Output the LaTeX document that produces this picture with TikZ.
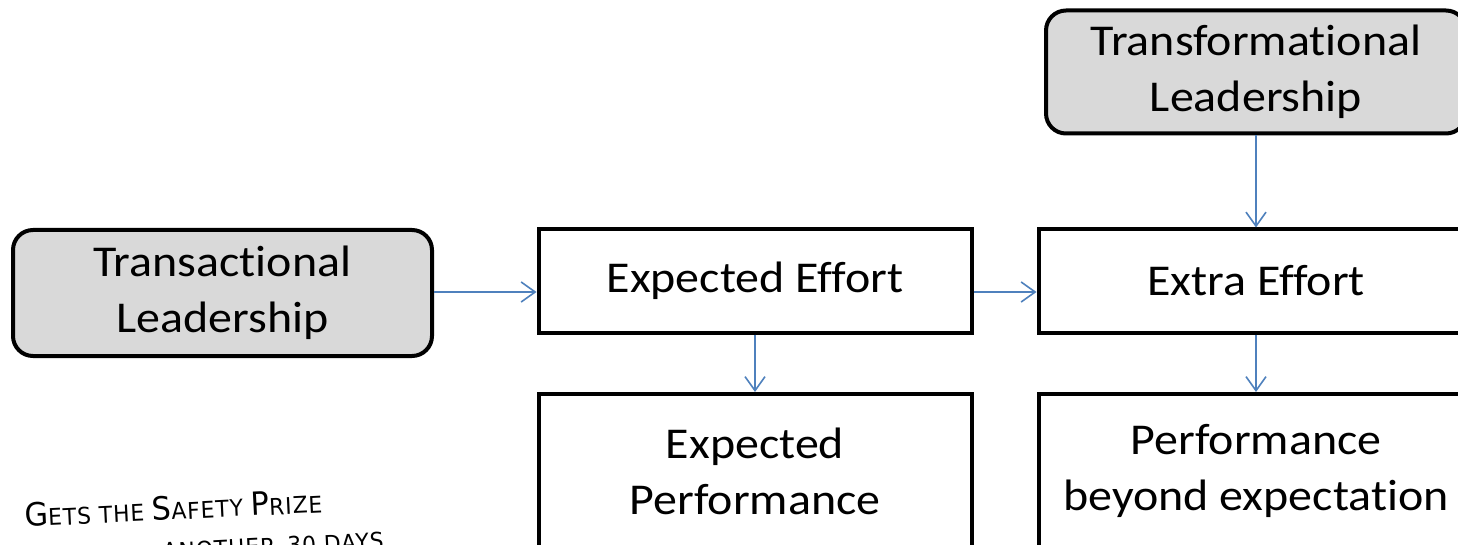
\documentclass[tikz,border=0pt]{standalone}
\usepackage{fontspec}
\setmainfont{Carlito}[FakeStretch=1.09, RawFeature={-liga;-clig;-dlig}]
\newfontfamily\handfont{DejaVu Sans}[FakeStretch=0.95, LetterSpace=4]
\usetikzlibrary{arrows.meta}
\definecolor{arrowblue}{HTML}{4F81BD}
\definecolor{leadgray}{HTML}{D9D9D9}
\tikzset{
  boxbase/.style={draw=black, line width=4pt, align=center, font=\fontsize{44}{56}\selectfont, inner sep=0pt},
  leadbox/.style={boxbase, fill=leadgray, rounded corners=20pt},
  effbox/.style={boxbase, fill=white},
  flow/.style={draw=arrowblue, line width=1.6pt, -{Straight Barb[length=14pt,width=20pt,line width=1.6pt]}},
  hand/.style={font=\handfont, anchor=base west, inner sep=0pt}
}
\newcommand{\handcap}[1]{{\fontsize{32}{32}\selectfont #1}}
\begin{document}
\begin{tikzpicture}[x=1pt,y=-1pt]
\clip (0,0) rectangle (1458,545);
\fill[white] (0,0) rectangle (1458,545);
\node[leadbox, minimum width=419pt, minimum height=126pt] (trans) at (222.5,293) {Transactional\\Leadership};
\node[leadbox, minimum width=420pt, minimum height=123pt] (trf) at (1256,72) {Transformational\\Leadership};
\node[effbox, minimum width=433pt, minimum height=103pt] (eeff) at (755,281) {Expected Effort};
\node[effbox, minimum width=435pt, minimum height=103pt] (xeff) at (1256,281) {Extra Effort};
\node[effbox, minimum width=433pt, minimum height=154pt] (eperf) at (755,471) {Expected\\Performance};
\node[effbox, minimum width=435pt, minimum height=154pt] (pbe) at (1256,471) {Performance\\beyond expectation};
\coordinate (lvl) at (0,292);
\draw[flow] (trans.east |- lvl) -- (eeff.west |- lvl);
\draw[flow] (eeff.east |- lvl) -- (xeff.west |- lvl);
\draw[flow] (trf.south) -- (xeff.north);
\draw[flow] (eeff.south) -- (eperf.north);
\draw[flow] (xeff.south) -- (pbe.north);
\node[hand, rotate=2.8] (cap1) at (25,527) {\fontsize{23}{23}\selectfont \handcap{G}ETS THE \handcap{S}AFETY \handcap{P}RIZE};
\node[hand, rotate=2.8] (cap2) at (163,560) {\fontsize{23}{23}\selectfont ANOTHER\hspace{12pt}30 DAYS};
\end{tikzpicture}
\end{document}
